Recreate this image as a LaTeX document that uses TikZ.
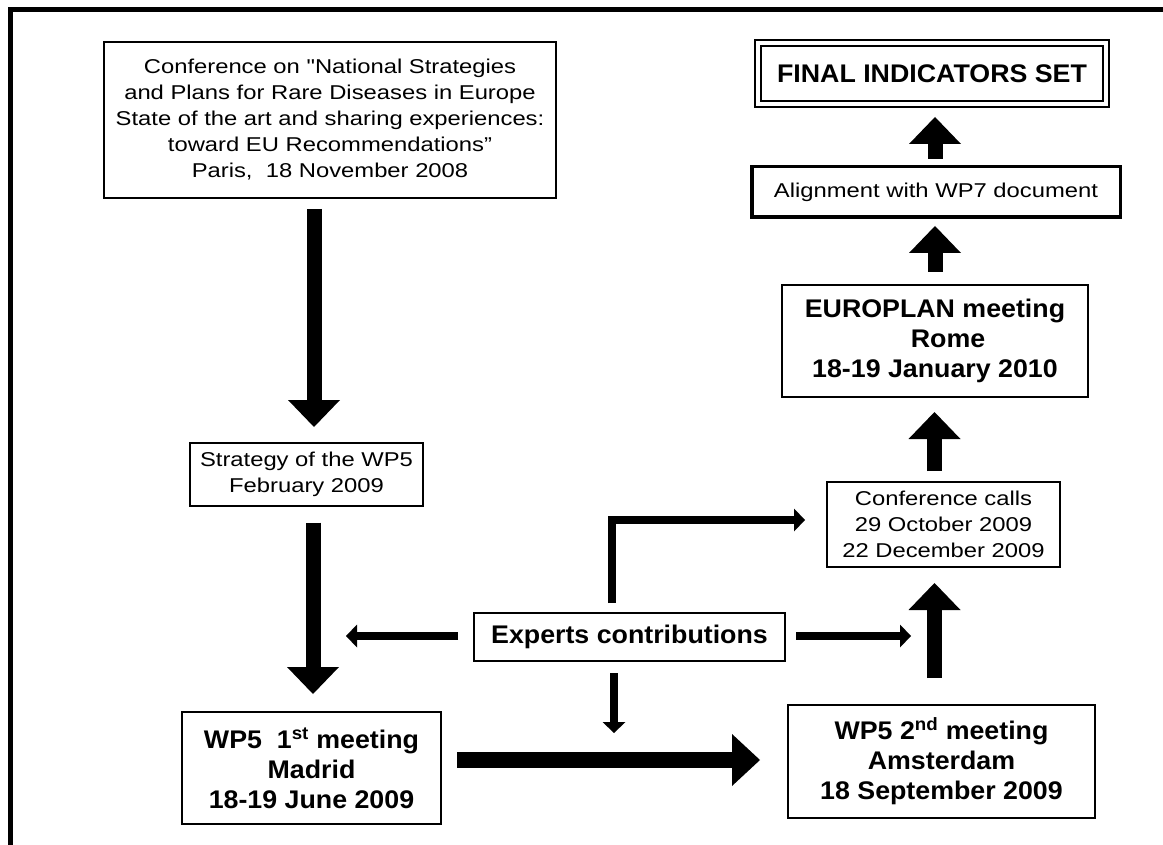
\documentclass[tikz,border=0pt]{standalone}
\usepackage{fontspec}
\usetikzlibrary{arrows.meta}
\newfontfamily\regf{Liberation Sans}[FakeStretch=1.19]
\newfontfamily\boldf{Liberation Sans}[FakeStretch=1.05]
\tikzset{
  box/.style={draw=black, line width=2.4pt, inner sep=0pt, outer sep=0pt, align=center, fill=white},
  regtext/.style={font=\regf\fontsize{20}{26}\selectfont},
  boldtext/.style={font=\boldf\bfseries\fontsize{25.5}{30}\selectfont},
  bigarrow/.style={line width=15pt, -{Triangle[width=52pt,length=27pt,line width=0pt]}},
  hugearrow/.style={line width=16pt, -{Triangle[width=52pt,length=28pt,line width=0pt]}},
  smallarrow/.style={line width=8pt, -{Triangle[width=23pt,length=11pt,line width=0pt]}},
  frameline/.style={line width=5pt, line join=miter}
}
\begin{document}
\begin{tikzpicture}[x=1pt,y=-1pt]
\fill[white] (0,0) rectangle (1163,845);
\useasboundingbox (0,0) rectangle (1163,845);
\draw[frameline] (1170,9.5) -- (10.5,9.5) -- (10.5,850);

% nodes
\node[box,regtext,minimum width=451.6pt,minimum height=155.6pt] (conf) at (330,120)
  {Conference on "National Strategies\\and Plans for Rare Diseases in Europe\\State of the art and sharing experiences:\\toward EU Recommendations”\\Paris,~~18 November 2008};
\node[box,regtext,minimum width=232.6pt,minimum height=62.6pt] (strat) at (306.5,474.5)
  {Strategy of the WP5\\February 2009};
\node[box,boldtext,minimum width=258.6pt,minimum height=111.6pt] (madrid) at (311.5,768)
  {WP5~~1\textsuperscript{st} meeting\\Madrid\\18-19 June 2009};
\node[box,boldtext,minimum width=310.6pt,minimum height=47.6pt] (experts) at (629.5,637)
  {Experts contributions};
\node[box,boldtext,minimum width=306.6pt,minimum height=112.6pt] (amst) at (941.5,761.5)
  {WP5 2\textsuperscript{nd} meeting\\Amsterdam\\18 September 2009};
\node[box,regtext,minimum width=232.6pt,minimum height=84.6pt] (calls) at (943.5,524.5)
  {Conference calls\\29 October 2009\\22 December 2009};
\node[box,boldtext,minimum width=305.6pt,minimum height=111.6pt] (rome) at (935,341)
  {EUROPLAN meeting\\\hspace*{26pt}Rome\\18-19 January 2010};
\node[box,regtext,line width=3.5pt,minimum width=368.5pt,minimum height=50.5pt] (align) at (936,192)
  {Alignment with WP7 document};
\node[box,boldtext,line width=2pt,double=white,double distance=4pt,minimum width=348pt,minimum height=61pt] (final) at (932,73.5)
  {FINAL INDICATORS SET};

% free ends
\coordinate (lefttip) at (346,636);
\coordinate (righttip) at (911,636);
\coordinate (downtip) at (614,733);
\coordinate (elbowtip) at (805,520);

% big arrows
\draw[bigarrow] ([xshift=-16pt,yshift=-11.2pt]conf.south) -- ([xshift=7.5pt,yshift=16.2pt]strat.north);
\draw[bigarrow] ([xshift=6.5pt,yshift=-16.7pt]strat.south) -- ([xshift=1.5pt,yshift=18.2pt]madrid.north);
\draw[hugearrow] ([xshift=16.2pt,yshift=8pt]madrid.east) -- ([xshift=-28.2pt,yshift=1.5pt]amst.west);
\draw[bigarrow] ([xshift=-7pt,yshift=27.2pt]amst.north) -- ([xshift=-9pt,yshift=-16.2pt]calls.south);
\draw[bigarrow] ([xshift=-9pt,yshift=11.2pt]calls.north) -- ([xshift=-0.5pt,yshift=-15.2pt]rome.south);
\draw[bigarrow] ([xshift=0pt,yshift=13.2pt]rome.north) -- ([xshift=-1pt,yshift=-8.75pt]align.south);
\draw[bigarrow] ([xshift=-1pt,yshift=7.75pt]align.north) -- ([xshift=3pt,yshift=-13pt]final.south);

% small arrows
\draw[smallarrow] ([xshift=-16.2pt,yshift=1pt]experts.west) -- (lefttip);
\draw[smallarrow] ([xshift=11.2pt,yshift=1pt]experts.east) -- (righttip);
\draw[smallarrow] ([xshift=-15.5pt,yshift=-12.2pt]experts.south) -- (downtip);
\draw[smallarrow,line join=miter] ([xshift=-17.5pt,yshift=10.2pt]experts.north) |- (elbowtip);
\end{tikzpicture}
\end{document}
